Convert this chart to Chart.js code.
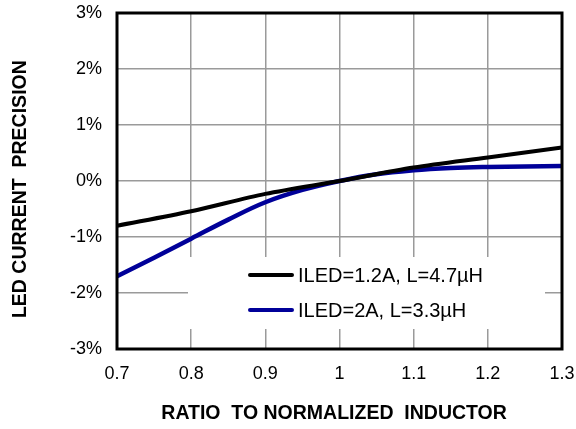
<!DOCTYPE html>
<html>
<head>
<meta charset="utf-8">
<script src="https://cdn.jsdelivr.net/npm/chart.js@4"></script>
<style>
  html, body { margin: 0; padding: 0; background: #fff; }
  #wrap { width: 576px; height: 429px; }
</style>
</head>
<body>
<div id="wrap"><canvas id="chart" width="576" height="429"></canvas></div>
<script>
  // inductor ratio vs LED current precision (%)
  const ratioCoarse = [0.7, 0.8, 0.9, 1.0, 1.1, 1.2, 1.3];
  const precision12A = [-0.80, -0.54, -0.23, 0, 0.24, 0.42, 0.60];

  const ratioFine = [0.7, 0.75, 0.8, 0.85, 0.9, 0.95, 1.0, 1.05, 1.1, 1.15, 1.2, 1.25, 1.3];
  const precision2A = [-1.70, -1.37, -1.03, -0.69, -0.38, -0.16, 0, 0.12, 0.19, 0.23, 0.25, 0.26, 0.27];

  const seriesLabels = ["ILED=1.2A, L=4.7\u00b5H", "ILED=2A, L=3.3\u00b5H"];
  const seriesColors = ["#000000", "#000099"];

  const FONT = "'Liberation Sans', Arial, sans-serif";

  // legend sits inside the plot, white box hides the grid behind it
  const boxLegend = {
    id: "boxLegend",
    beforeDatasetsDraw(chart) {
      const ctx = chart.ctx;
      ctx.save();
      ctx.fillStyle = "#fff";
      ctx.fillRect(188, 257, 357, 72);
      chart.data.datasets.forEach((ds, i) => {
        const y = 275 + i * 35;
        ctx.strokeStyle = ds.borderColor;
        ctx.lineWidth = 4;
        ctx.lineCap = "round";
        ctx.beginPath();
        ctx.moveTo(250, y);
        ctx.lineTo(292, y);
        ctx.stroke();
        ctx.fillStyle = "#000";
        ctx.font = "20px " + FONT;
        ctx.textBaseline = "middle";
        ctx.textAlign = "left";
        ctx.fillText(ds.label, 298, y + 1);
      });
      ctx.restore();
    },
    afterDatasetsDraw(chart) {
      const a = chart.chartArea;
      const ctx = chart.ctx;
      ctx.save();
      ctx.strokeStyle = "#000";
      ctx.lineWidth = 3;
      ctx.strokeRect(a.left, a.top, a.right - a.left, a.bottom - a.top);
      ctx.restore();
    },
  };

  new Chart(document.getElementById("chart"), {
    type: "line",
    data: {
      datasets: [
        {
          label: seriesLabels[0],
          data: ratioCoarse.map((x, i) => ({ x, y: precision12A[i] })),
          borderColor: seriesColors[0],
          borderWidth: 4,
          pointRadius: 0,
          tension: 0.3,
        },
        {
          label: seriesLabels[1],
          data: ratioFine.map((x, i) => ({ x, y: precision2A[i] })),
          borderColor: seriesColors[1],
          borderWidth: 4.5,
          pointRadius: 0,
          tension: 0.4,
        },
      ],
    },
    options: {
      responsive: false,
      animation: false,
      layout: { padding: { top: 13, right: 14, left: 0, bottom: 0 }, autoPadding: false },
      plugins: { legend: { display: false }, tooltip: { enabled: false } },
      scales: {
        x: {
          type: "linear",
          min: 0.7,
          max: 1.3,
          afterFit: (s) => {
            s.height = 80;
            s.paddingLeft = 0;
            s.paddingRight = 0;
          },
          ticks: {
            stepSize: 0.1,
            padding: 14,
            color: "#000",
            font: { family: FONT, size: 18 },
            callback: (v) => String(Number(v.toFixed(1))),
          },
          grid: { color: "#9a9a9a", lineWidth: 1.5, drawTicks: false },
          border: { display: false },
          title: {
            display: true,
            // trailing spaces nudge the title left like the original
            text: "RATIO  TO NORMALIZED  INDUCTOR  ",
            color: "#000",
            font: { family: FONT, size: 19.5, weight: "bold" },
            padding: { top: 0, bottom: 4 },
          },
        },
        y: {
          min: -3,
          max: 3,
          afterFit: (s) => {
            s.width = 117;
            s.paddingTop = 0;
            s.paddingBottom = 0;
          },
          ticks: {
            stepSize: 1,
            padding: 15,
            color: "#000",
            font: { family: FONT, size: 18 },
            callback: (v) => v + "%",
          },
          grid: { color: "#9a9a9a", lineWidth: 1.5, drawTicks: false },
          border: { display: false },
          title: {
            display: true,
            text: "LED CURRENT  PRECISION   ",
            color: "#000",
            font: { family: FONT, size: 19.5, weight: "bold" },
            padding: { top: 9, bottom: 0 },
          },
        },
      },
    },
    plugins: [boxLegend],
  });
</script>
</body>
</html>
